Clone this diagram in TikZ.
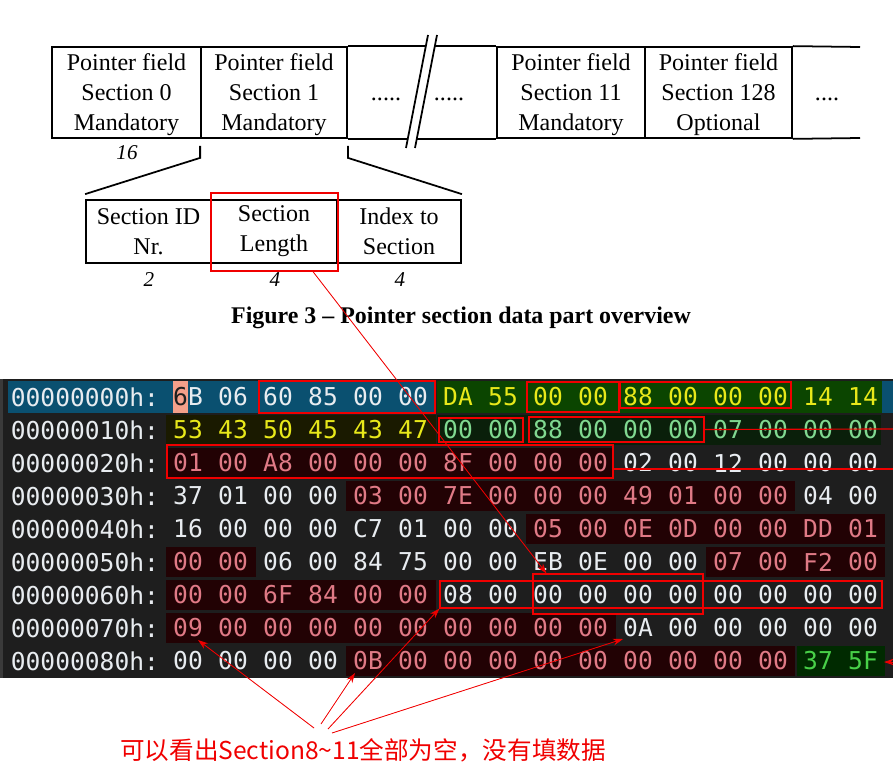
\documentclass[tikz,border=0pt]{standalone}
\usepackage{fontspec}
\setmainfont{Liberation Serif}
\newfontfamily\hexfont{DejaVu Sans Mono}
\newfontfamily\cjk{Noto Sans CJK SC}
\usetikzlibrary{arrows.meta, calc, fit}
\definecolor{cred}{HTML}{F00000}
\definecolor{dumpbg}{HTML}{1E1E1E}
\definecolor{dumpedge}{HTML}{3A3A3A}
\definecolor{cteal}{HTML}{0A5070}
\definecolor{cleaf}{HTML}{0B4500}
\definecolor{colive}{HTML}{1A1A00}
\definecolor{cmoss}{HTML}{0A1F0A}
\definecolor{cmaroon}{HTML}{220204}
\definecolor{cpine}{HTML}{002A00}
\definecolor{csalmon}{HTML}{F4A08A}
\definecolor{hw}{HTML}{E8ECF0}
\definecolor{hy}{HTML}{E8E81A}
\definecolor{hg}{HTML}{80D890}
\definecolor{hp}{HTML}{E07A86}
\definecolor{hn}{HTML}{48D048}
\tikzset{
  every picture/.style={line width=1.5pt},
  cell/.style={draw, inner sep=0pt},
  celltext/.style={inner sep=0pt, align=center, font=\fontsize{20.5}{25.5}\selectfont},
  tline/.style={line width=1.5pt},
  num/.style={inner sep=0pt, font=\fontsize{18}{18}\selectfont\itshape},
  caption/.style={inner sep=0pt, font=\fontsize{20.4}{20.4}\selectfont\bfseries},
  hexoff/.style={anchor=west, inner sep=0pt, text=hw, font=\hexfont\fontsize{21}{21}\selectfont},
  hexbyte/.style={inner sep=0pt, font=\hexfont\fontsize{21}{21}\selectfont},
  redbox/.style={draw=cred, line width=1pt, inner sep=0pt},
  redline/.style={draw=cred, line width=1pt},
  redarrow/.style={-{Stealth[length=3mm, width=2mm]}, draw=cred, fill=cred, line width=0.7pt},
  note/.style={inner sep=0pt, text=cred, font=\cjk\fontsize{21}{21}\selectfont},
}
\begin{document}
\begin{tikzpicture}[x=0.3mm, y=-0.3mm]
  \useasboundingbox (0,0) rectangle (893,776);
  % pointer field row
  \node[cell, fit={(52,47) (201,138)}] (p0) {};
  \node[cell, fit={(201,47) (347,138)}] (p1) {};
  \node[cell, fit={(497,47) (645,138)}] (p11) {};
  \node[cell, fit={(645,47) (792,138)}] (p128) {};
  \node[celltext, yshift=-2pt] (p0t) at (p0.center) {Pointer field\\Section 0\\Mandatory};
  \node[celltext, yshift=-2pt] (p1t) at (p1.center) {Pointer field\\Section 1\\Mandatory};
  \node[celltext, yshift=-2pt] (p11t) at (p11.center) {Pointer field\\Section 11\\Mandatory};
  \node[celltext, yshift=-2pt] (p128t) at (p128.center) {Pointer field\\Section 128\\Optional};
  \coordinate (endtop) at (860,47);
  \coordinate (endbot) at (860,138);
  \draw[tline] (p1.north east) -- (p11.north west);
  \draw[tline] (p1.south east) -- (p11.south west);
  \draw[tline] (p128.north east) -- (endtop);
  \draw[tline] (p128.south east) -- (endbot);
  \fill[white] (406,148) -- (428,35) -- (437,35) -- (415,148) -- cycle;
  \draw[tline] (406,148) -- (428,35);
  \draw[tline] (415,148) -- (437,35);
  \node[celltext, anchor=base] (dots1) at (386,101) {.....};
  \node[celltext, anchor=base] (dots2) at (449,101) {.....};
  \node[celltext, anchor=base] (dots3) at (827,101) {....};
  \node[num] (n16) at (127,153) {16};

  % one pointer field
  \node[cell, fit={(86,200) (211,263)}] (sid) {};
  \node[cell, fit={(211,200) (337,263)}] (slen) {};
  \node[cell, fit={(337,200) (461,263)}] (sidx) {};
  \node[celltext] (sidt) at (sid.center) {Section ID\\Nr.};
  \node[celltext] (slent) at (slen.center) {Section\\Length};
  \node[celltext] (sidxt) at (sidx.center) {Index to\\Section};
  \draw[tline] ($(p1.south west)+(0,7)$) -- ++(0,12) -- ($(sid.north west)+(0,-5)$);
  \draw[tline] ($(p1.south east)+(0,7)$) -- ++(0,12) -- ($(sidx.north east)+(0,-5)$);
  \node[num] (n2) at (149,280) {2};
  \node[num] (n4a) at (275,280) {4};
  \node[num] (n4b) at (400,280) {4};
  \node[caption] (cap) at (461,318) {Figure 3 – Pointer section data part overview};

  % hex dump
  \fill[dumpbg] (0,379) rectangle (893,678);
  \fill[dumpedge] (0,379) rectangle (3,678);
  \fill[cteal] (8,381) rectangle (436,413);
  \fill[cleaf] (437,381) rectangle (882,413);
  \fill[cteal] (882,381) rectangle (893,413);
  \fill[csalmon] (173,381) rectangle (188,413);
  \fill[colive] (166,415) rectangle (436,445);
  \fill[cmoss] (437,415) rectangle (881,445);
  \fill[cmaroon] (166,448) rectangle (614,478);
  \fill[cmaroon] (346,481) rectangle (795,511);
  \fill[cmaroon] (526,514) rectangle (885,544);
  \fill[cmaroon] (166,547) rectangle (256,577);
  \fill[cmaroon] (706,547) rectangle (885,577);
  \fill[cmaroon] (166,580) rectangle (436,610);
  \fill[cmaroon] (166,613) rectangle (616,643);
  \fill[cmaroon] (346,646) rectangle (795,676);
  \fill[cpine] (797,646) rectangle (885,676);

  \foreach \a [count=\r from 0] in {00000000h:,00000010h:,00000020h:,00000030h:,00000040h:,00000050h:,00000060h:,00000070h:,00000080h:}
    \node[hexoff] (off\r) at (10,397+33*\r) {\a};

  \node[hexbyte, text=dumpbg] (b0-0) at (188,397) {6\textcolor{hw}{B}};
  \foreach \v/\c [count=\i] in {06/hw,60/hw,85/hw,00/hw,00/hw,DA/hy,55/hy,00/hy,00/hy,88/hy,00/hy,00/hy,00/hy,14/hy,14/hy}
    \node[hexbyte, text=\c] (b0-\i) at (188+45*\i,397) {\v};
  \foreach \v/\c [count=\i from 0] in {53/hy,43/hy,50/hy,45/hy,43/hy,47/hy,00/hg,00/hg,88/hg,00/hg,00/hg,00/hg,07/hg,00/hg,00/hg,00/hg}
    \node[hexbyte, text=\c] (b1-\i) at (188+45*\i,430) {\v};
  \foreach \v/\c [count=\i from 0] in {01/hp,00/hp,A8/hp,00/hp,00/hp,00/hp,8F/hp,00/hp,00/hp,00/hp,02/hw,00/hw,12/hw,00/hw,00/hw,00/hw}
    \node[hexbyte, text=\c] (b2-\i) at (188+45*\i,463) {\v};
  \foreach \v/\c [count=\i from 0] in {37/hw,01/hw,00/hw,00/hw,03/hp,00/hp,7E/hp,00/hp,00/hp,00/hp,49/hp,01/hp,00/hp,00/hp,04/hw,00/hw}
    \node[hexbyte, text=\c] (b3-\i) at (188+45*\i,496) {\v};
  \foreach \v/\c [count=\i from 0] in {16/hw,00/hw,00/hw,00/hw,C7/hw,01/hw,00/hw,00/hw,05/hp,00/hp,0E/hp,0D/hp,00/hp,00/hp,DD/hp,01/hp}
    \node[hexbyte, text=\c] (b4-\i) at (188+45*\i,529) {\v};
  \foreach \v/\c [count=\i from 0] in {00/hp,00/hp,06/hw,00/hw,84/hw,75/hw,00/hw,00/hw,EB/hw,0E/hw,00/hw,00/hw,07/hp,00/hp,F2/hp,00/hp}
    \node[hexbyte, text=\c] (b5-\i) at (188+45*\i,562) {\v};
  \foreach \v/\c [count=\i from 0] in {00/hp,00/hp,6F/hp,84/hp,00/hp,00/hp,08/hw,00/hw,00/hw,00/hw,00/hw,00/hw,00/hw,00/hw,00/hw,00/hw}
    \node[hexbyte, text=\c] (b6-\i) at (188+45*\i,595) {\v};
  \foreach \v/\c [count=\i from 0] in {09/hp,00/hp,00/hp,00/hp,00/hp,00/hp,00/hp,00/hp,00/hp,00/hp,0A/hw,00/hw,00/hw,00/hw,00/hw,00/hw}
    \node[hexbyte, text=\c] (b7-\i) at (188+45*\i,628) {\v};
  \foreach \v/\c [count=\i from 0] in {00/hw,00/hw,00/hw,00/hw,0B/hp,00/hp,00/hp,00/hp,00/hp,00/hp,00/hp,00/hp,00/hp,00/hp,37/hn,5F/hn}
    \node[hexbyte, text=\c] (b8-\i) at (188+45*\i,661) {\v};

  % marked fields
  \node[redbox, fit={(259,381) (435,413)}] (hdrlen) {};
  \node[redbox, fit={(527,382) (619,412)}] (sec0id) {};
  \node[redbox, fit={(620,382) (791,408)}] (sec0len) {};
  \node[redbox, fit={(439,418) (523,442)}] (sec1id) {};
  \node[redbox, fit={(529,417) (704,442)}] (sec1len) {};
  \node[redbox, fit={(167,445) (613,478)}] (sec2row) {};
  \node[redbox, fit={(440,581) (882,608)}] (sec8row) {};
  \node[redbox, fit={(533,574) (703,614)}] (sec8len) {};
  \node[redbox, fit={(211,193) (338,271)}] (lenbox) {};
  \coordinate (rim1) at (893,429);
  \coordinate (rim2) at (893,469);
  \coordinate (rim3) at (894,662);
  \draw[redline] (sec1len.east) -- (rim1);
  \draw[redline] (sec2row.east |- rim2) -- (rim2);
  \draw[redarrow] (rim3) -- ++(-10,0);
  \draw[redarrow] ($(lenbox.south west)!0.8!(lenbox.south east)$) -- ($(sec8len.north west)+(14,0)$);

  % note
  \node[note] (note) at (363,750) {可以看出Section8\textasciitilde11全部为空，没有填数据};
  \coordinate (fan1) at (314,728);
  \coordinate (fan2) at (321,724);
  \coordinate (fan3) at (328,729);
  \coordinate (fan4) at (332,733);
  \draw[redarrow] (fan1) -- ($(b7-0)+(10,12)$);
  \draw[redarrow] (fan2) -- ($(b8-4)+(-13,12)$);
  \draw[redarrow] (fan3) -- (sec8row.south west);
  \draw[redarrow] (fan4) -- ($(b7-10)+(-15,11)$);
\end{tikzpicture}
\end{document}
